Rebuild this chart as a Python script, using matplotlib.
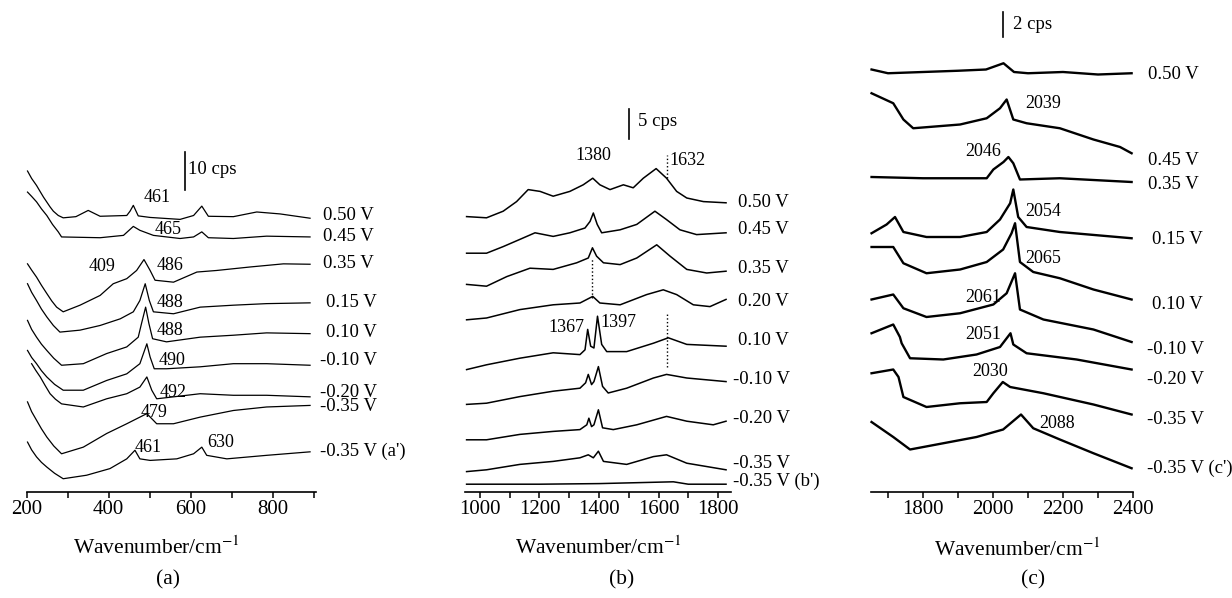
import matplotlib
matplotlib.use('Agg')
import matplotlib.pyplot as plt
from matplotlib.ticker import MultipleLocator

plt.rcParams['font.family'] = ['Liberation Serif', 'DejaVu Serif']
plt.rcParams['mathtext.fontset'] = 'stix'

# ---- panel (a): 200-900 cm-1, intensities in cps (offset stacked)
a_labels = ['0.50 V', '0.45 V', '0.35 V', '0.15 V', '0.10 V', '-0.10 V', '-0.20 V', '-0.35 V', "-0.35 V (a')"]
a_wn = [
    [202, 212, 224, 233, 241, 257, 265, 277, 289, 320, 350, 379, 444, 452, 460, 472, 501, 574, 607, 627, 643, 704, 761, 818, 891],
    [202, 212, 224, 236, 249, 263, 277, 285, 379, 436, 460, 476, 509, 574, 607, 627, 643, 704, 785, 891],
    [202, 212, 224, 236, 249, 261, 273, 289, 330, 379, 411, 444, 468, 486, 501, 513, 558, 615, 663, 745, 826, 891],
    [202, 212, 224, 236, 249, 265, 281, 330, 379, 428, 460, 476, 489, 499, 509, 558, 623, 704, 785, 891],
    [202, 212, 224, 236, 249, 266, 285, 338, 395, 444, 472, 480, 490, 498, 507, 541, 623, 704, 785, 891],
    [202, 212, 224, 236, 249, 268, 289, 338, 395, 444, 476, 493, 501, 511, 541, 623, 704, 785, 891],
    [212, 222, 233, 245, 257, 270, 285, 338, 395, 444, 476, 493, 505, 517, 558, 623, 704, 785, 891],
    [202, 212, 224, 236, 249, 266, 285, 338, 395, 444, 476, 493, 517, 558, 623, 704, 785, 891],
    [202, 212, 224, 236, 249, 268, 289, 346, 403, 444, 464, 476, 501, 566, 607, 627, 639, 688, 785, 891],
]
a_cps = [
    [82.3, 80.4, 78.6, 77.0, 75.6, 73.1, 72.0, 70.9, 70.3, 70.6, 72.2, 70.7, 70.9, 72.0, 73.5, 70.8, 70.4, 69.9, 70.9, 73.3, 70.7, 70.6, 71.8, 71.3, 70.2],
    [76.9, 75.8, 74.4, 72.6, 70.9, 68.6, 66.7, 65.4, 65.2, 65.8, 68.1, 67.1, 65.8, 65.0, 65.4, 66.7, 65.2, 65.0, 65.6, 65.4],
    [58.5, 56.9, 55.1, 53.0, 50.9, 49.0, 47.4, 46.2, 47.9, 50.4, 53.4, 54.7, 56.8, 59.6, 56.8, 54.3, 53.8, 56.4, 56.8, 57.7, 58.5, 58.4],
    [53.4, 51.2, 49.1, 46.9, 44.9, 42.7, 41.0, 41.5, 42.7, 44.4, 46.2, 49.1, 53.4, 49.1, 46.2, 45.7, 47.4, 47.9, 48.3, 48.5],
    [44.0, 41.7, 39.7, 37.9, 36.3, 34.3, 32.5, 32.9, 35.5, 37.2, 39.7, 43.2, 47.4, 43.2, 39.3, 38.5, 39.7, 40.2, 40.8, 40.6],
    [36.3, 34.5, 32.9, 31.1, 29.5, 27.6, 26.1, 26.1, 28.6, 30.3, 32.9, 38.0, 34.6, 31.6, 31.6, 32.1, 32.9, 32.9, 32.5],
    [32.9, 31.2, 29.5, 27.3, 25.2, 23.8, 22.6, 21.8, 23.9, 25.2, 26.9, 29.5, 26.1, 23.9, 24.4, 25.2, 24.8, 24.8, 24.4],
    [23.1, 20.6, 18.4, 16.2, 14.1, 11.8, 9.8, 11.5, 15.0, 17.5, 19.2, 20.1, 17.5, 17.5, 19.2, 20.9, 21.8, 22.2],
    [12.8, 10.8, 9.0, 7.6, 6.4, 4.8, 3.4, 4.3, 6.0, 8.5, 10.7, 8.5, 8.1, 8.5, 9.8, 11.5, 9.4, 8.5, 9.4, 10.3],
]
a_label_pos = [(923, 70.8), (923, 65.4), (923, 58.7), (930, 48.7), (930, 41.0),
               (916, 33.8), (916, 25.6), (916, 21.8), (916, 10.3)]
a_peaks = ['461', '465', '409', '486', '488', '488', '490', '492', '479', '461', '630']
a_peak_pos = [(518, 75.4), (545, 67.2), (384, 57.7), (550, 58.2), (550, 48.7), (550, 41.5),
              (554, 33.8), (557, 25.6), (511, 20.5), (496, 11.5), (672, 12.8)]

# ---- panel (b): 950-1845 cm-1
b_labels = ['0.50 V', '0.45 V', '0.35 V', '0.20 V', '0.10 V', '-0.10 V', '-0.20 V', '-0.35 V', "-0.35 V (b')"]
b_wn = [
    [955, 1022, 1078, 1123, 1162, 1202, 1246, 1302, 1347, 1379, 1403, 1437, 1482, 1515, 1549, 1592, 1627, 1661, 1695, 1751, 1827],
    [955, 1022, 1078, 1134, 1185, 1246, 1302, 1353, 1370, 1381, 1394, 1409, 1471, 1527, 1588, 1627, 1672, 1728, 1827],
    [955, 1022, 1090, 1168, 1246, 1325, 1364, 1378, 1392, 1415, 1471, 1527, 1594, 1639, 1695, 1762, 1827],
    [955, 1022, 1134, 1246, 1336, 1379, 1403, 1471, 1560, 1616, 1661, 1717, 1773, 1827],
    [955, 1022, 1134, 1246, 1336, 1353, 1362, 1372, 1383, 1395, 1409, 1426, 1493, 1583, 1633, 1695, 1827],
    [955, 1022, 1134, 1246, 1336, 1355, 1364, 1375, 1383, 1398, 1412, 1431, 1493, 1583, 1627, 1695, 1827],
    [955, 1022, 1134, 1246, 1336, 1359, 1366, 1375, 1383, 1398, 1412, 1448, 1527, 1627, 1695, 1784, 1827],
    [955, 1022, 1134, 1246, 1336, 1364, 1381, 1398, 1415, 1493, 1583, 1627, 1695, 1827],
    [955, 1200, 1400, 1650, 1700, 1827],
]
b_cps = [
    [45.9, 45.7, 46.8, 48.4, 50.4, 50.1, 49.3, 50.1, 51.2, 52.3, 51.2, 50.4, 51.2, 50.7, 52.3, 53.9, 52.3, 50.1, 49.0, 48.4, 48.2],
    [39.8, 39.8, 40.9, 42.1, 43.2, 42.6, 43.2, 44.0, 45.1, 46.5, 44.6, 43.2, 43.7, 44.6, 46.8, 45.4, 43.7, 42.9, 43.2],
    [34.6, 34.3, 35.9, 37.3, 37.1, 38.2, 39.0, 40.7, 39.3, 38.2, 37.9, 39.0, 41.2, 39.3, 37.1, 36.5, 36.8],
    [28.7, 29.0, 30.4, 31.2, 31.5, 32.6, 31.5, 31.2, 32.9, 33.7, 32.9, 31.2, 30.9, 32.1],
    [20.4, 21.2, 22.3, 23.2, 22.9, 23.7, 27.1, 24.3, 24.0, 29.3, 24.6, 23.4, 23.4, 24.8, 25.7, 24.6, 24.3],
    [14.6, 14.8, 15.9, 16.8, 17.3, 18.2, 19.6, 17.9, 18.4, 20.9, 17.6, 16.5, 17.3, 19.0, 19.6, 19.0, 18.4],
    [8.7, 8.7, 9.6, 10.1, 10.4, 11.2, 12.3, 10.9, 11.2, 13.7, 10.7, 10.4, 11.2, 12.6, 11.8, 11.2, 11.8],
    [3.4, 3.7, 4.6, 5.1, 5.7, 6.2, 5.7, 6.8, 5.1, 4.6, 5.9, 6.2, 4.8, 3.7],
    [1.3, 1.3, 1.4, 1.7, 1.3, 1.3],
]
b_label_pos = [(1867, 48.2), (1867, 43.8), (1867, 37.2), (1867, 31.8), (1867, 25.2),
               (1850, 18.8), (1850, 12.2), (1850, 4.8), (1850, 1.7)]
b_peaks = ['1380', '1632', '1367', '1397']
b_peak_pos = [(1380, 56.0), (1699, 55.3), (1292, 27.5), (1464, 28.2)]
b_dotted = [(1630, 52.3, 56.2), (1378, 32.3, 39.0), (1630, 20.9, 29.6)]

# ---- panel (c): 1650-2400 cm-1
c_labels = ['0.50 V', '0.45 V', '0.35 V', '0.15 V', '0.10 V', '-0.10 V', '-0.20 V', '-0.35 V', "-0.35 V (c')"]
c_wn = [
    [1653, 1700, 1800, 1900, 1980, 2030, 2060, 2100, 2200, 2300, 2396],
    [1653, 1715, 1744, 1772, 1906, 1982, 2020, 2039, 2058, 2096, 2191, 2287, 2363, 2396],
    [1653, 1800, 1982, 2001, 2030, 2044, 2058, 2077, 2191, 2396],
    [1653, 1696, 1720, 1744, 1810, 1906, 1982, 2020, 2049, 2058, 2072, 2096, 2191, 2396],
    [1653, 1715, 1744, 1810, 1906, 1982, 2029, 2053, 2063, 2077, 2115, 2191, 2287, 2396],
    [1653, 1715, 1744, 1810, 1906, 2001, 2039, 2063, 2077, 2144, 2287, 2396],
    [1653, 1715, 1734, 1739, 1763, 1858, 1953, 2020, 2050, 2058, 2096, 2239, 2396],
    [1653, 1715, 1730, 1744, 1810, 1906, 1982, 2001, 2028, 2049, 2144, 2287, 2396],
    [1653, 1715, 1763, 1858, 1953, 2029, 2080, 2115, 2191, 2287, 2396],
]
c_cps = [
    [33.8, 33.5, 33.6, 33.7, 33.8, 34.3, 33.6, 33.5, 33.6, 33.4, 33.5],
    [31.9, 31.1, 29.8, 29.1, 29.4, 29.9, 30.7, 31.4, 29.8, 29.5, 29.1, 28.2, 27.6, 27.1],
    [25.2, 25.1, 25.1, 25.8, 26.4, 26.8, 26.3, 25.0, 25.1, 24.8],
    [20.7, 21.4, 22.0, 20.8, 20.4, 20.4, 20.8, 21.8, 23.1, 24.2, 22.0, 21.2, 20.8, 20.3],
    [19.6, 19.6, 18.3, 17.5, 17.8, 18.4, 19.4, 20.7, 21.5, 18.4, 17.6, 17.1, 16.2, 15.4],
    [15.4, 15.8, 14.7, 14.0, 14.3, 15.0, 15.9, 17.5, 14.6, 13.8, 13.0, 12.0],
    [12.7, 13.4, 12.4, 11.9, 10.7, 10.6, 11.0, 11.6, 12.7, 11.8, 11.1, 10.6, 9.8],
    [9.5, 9.8, 9.2, 7.6, 6.8, 7.1, 7.2, 7.9, 8.8, 8.4, 7.9, 7.0, 6.2],
    [5.6, 4.4, 3.4, 3.9, 4.4, 5.0, 6.2, 5.1, 4.2, 3.1, 1.9],
]
c_label_pos = [(2443, 33.4), (2443, 26.5), (2443, 24.6), (2454, 20.2), (2454, 15.0),
               (2440, 11.4), (2440, 9.0), (2440, 5.8), (2440, 1.9)]
c_peaks = ['2039', '2046', '2054', '2065', '2061', '2051', '2030', '2088']
c_peak_pos = [(2143, 31.1), (1971, 27.2), (2143, 22.4), (2143, 18.7), (1971, 15.6),
              (1971, 12.6), (1991, 9.6), (2183, 5.5)]

fig = plt.figure(figsize=(12.32, 5.98), dpi=100)
W, H = 1232.0, 598.0
ax_y0 = (H - 492) / H
ax_h = 492 / H


def make_axes(left_px, right_px, xlim, ytop, major, minor):
    ax = fig.add_axes([left_px / W, ax_y0, (right_px - left_px) / W, ax_h])
    ax.set_xlim(*xlim)
    ax.set_ylim(0, ytop)
    for s in ['left', 'right', 'top']:
        ax.spines[s].set_visible(False)
    ax.spines['bottom'].set_linewidth(1.2)
    ax.set_yticks([])
    ax.xaxis.set_major_locator(MultipleLocator(major))
    ax.xaxis.set_minor_locator(MultipleLocator(minor))
    ax.tick_params(axis='x', which='both', direction='out', length=4, width=1.1,
                   labelsize=15, pad=2)
    ax.patch.set_alpha(0)
    return ax


ax_a = make_axes(26.7, 315.8, (200, 905), 492 / 3.9, 200, 100)
ax_b = make_axes(465.1, 731.4, (950, 1845), 492 / 6.0, 200, 100)
ax_c = make_axes(870.5, 1133.0, (1650, 2400), 492 / 12.5, 200, 100)

panels = [
    (ax_a, a_wn, a_cps, a_labels, a_label_pos, a_peaks, a_peak_pos, 0.9),
    (ax_b, b_wn, b_cps, b_labels, b_label_pos, b_peaks, b_peak_pos, 1.1),
    (ax_c, c_wn, c_cps, c_labels, c_label_pos, c_peaks, c_peak_pos, 1.7),
]
for ax, wns, ys, labels, lpos, peaks, ppos, lw in panels:
    for x, y in zip(wns, ys):
        ax.plot(x, y, color='black', lw=lw, clip_on=False)
    for lab, (x, y) in zip(labels, lpos):
        ax.text(x, y, lab, fontsize=13.5, ha='left', va='center')
    for lab, (x, y) in zip(peaks, ppos):
        ax.text(x, y, lab, fontsize=13, ha='center', va='center')

for x, y0, y1 in b_dotted:
    ax_b.plot([x, x], [y0, y1], color='black', lw=1.0, ls=':')

# scale bars
ax_a.plot([586, 586], [77.4, 87.2], color='black', lw=1.2, clip_on=False)
ax_a.text(593, 82.6, '10 cps', fontsize=13.5, ha='left', va='center')
ax_b.plot([1500, 1500], [58.8, 63.8], color='black', lw=1.2, clip_on=False)
ax_b.text(1531, 61.8, '5 cps', fontsize=13.5, ha='left', va='center')
ax_c.plot([2029, 2029], [36.4, 38.4], color='black', lw=1.2, clip_on=False)
ax_c.text(2057, 37.4, '2 cps', fontsize=13.5, ha='left', va='center')

xlab = r'Wavenumber/cm$^{-1}$'
for xc, yc in [(156, 548), (598, 548), (1017, 550)]:
    fig.text(xc / W, 1 - yc / H, xlab, fontsize=15.5, ha='center', va='center')
for xc, lab in [(168, '(a)'), (622, '(b)'), (1033, '(c)')]:
    fig.text(xc / W, 1 - 580 / H, lab, fontsize=15.5, ha='center', va='center')

fig.savefig('out.png', dpi=100)
